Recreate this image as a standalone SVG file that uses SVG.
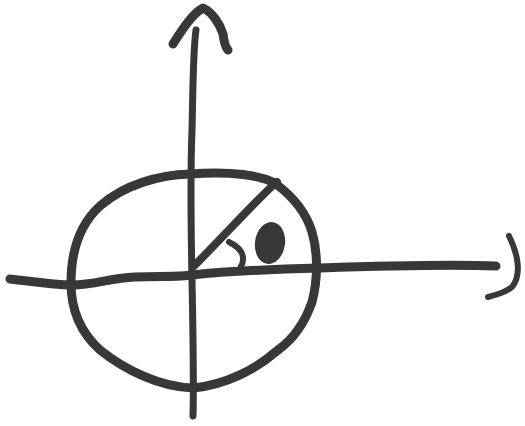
<svg xmlns="http://www.w3.org/2000/svg" width="525" height="426" viewBox="0 0 525 426">
<style>
.s{fill:none;stroke:#383838;stroke-linecap:round;stroke-linejoin:round}
</style>
<rect width="525" height="426" fill="#ffffff"/>
<g id="circle">
<path class="s" stroke-width="9" d="M190,174 C230,171 262,175 276,184 C292,196 306,212 312,232 C318,252 318,280 312,302 C304,325 292,340 278,350 C255,370 225,385 193,388 C160,387 125,370 100,350 C80,332 71,310 71,283 C71,255 78,226 100,206 C125,184 160,175 190,174 Z"/>
</g>
<g id="connectors">
<path id="y-axis" class="s" stroke-width="7" d="M193,416 C194,380 193,330 192,280 C191,230 190,180 192,130 C193,90 193,50 196,30"/>
<path id="y-arrowhead" class="s" stroke-width="9" d="M173,44 C182,30 192,14 203,8 C212,12 220,24 223,34 C224,42 225,47 228,50"/>
<path id="x-axis" class="s" stroke-width="9" d="M10,279 C30,281 50,285 72,285 C95,285 110,278 135,277 C160,276 180,277 192,275 C230,271 280,269 320,268 C380,266 440,264 496,266"/>
<path id="x-arrowhead" class="s" stroke-width="6" d="M509,236 C518,254 522,275 512,287 C505,293 496,295 488,297"/>
<path id="radius" class="s" stroke-width="8" d="M194,266 C215,245 240,218 262,196 C268,190 272,186 277,182"/>
<path id="angle-arc" class="s" stroke-width="6" d="M229,242 C237,246 243,251 243,258 C243,262 242,265 241,266"/>
</g>
<g id="theta">
<ellipse cx="270" cy="243" rx="15" ry="21" fill="#383838" transform="rotate(8 270 243)"/>
</g>
</svg>
